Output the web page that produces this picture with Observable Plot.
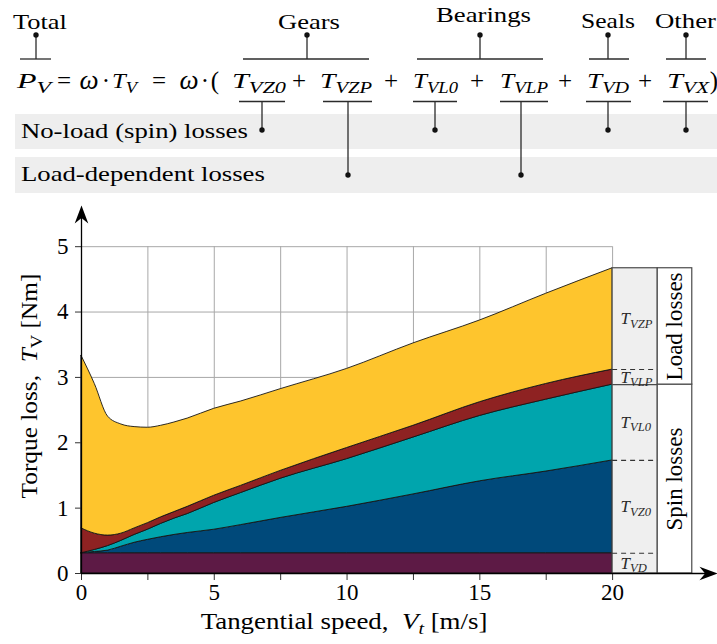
<!DOCTYPE html>
<html>
<head>
<meta charset="utf-8">
<script src="https://cdn.jsdelivr.net/npm/d3@7"></script>
<script src="https://cdn.jsdelivr.net/npm/@observablehq/plot@0.6"></script>
<style>
  html, body { margin: 0; padding: 0; background: #fff; }
  #page { width: 717px; overflow: hidden; }
  svg { display: block; }
  #page text, #page tspan { font-family: "Liberation Serif", serif !important; }
</style>
</head>
<body>
<div id="page"></div>
<script>
// ---------------- data ----------------
const speed = [0, 0.5, 1, 1.5, 2, 2.5, 3, 3.5, 4, 5, 6, 7.5, 10, 12.5, 15, 17.5, 20];
// torque loss of each component [Nm] at each tangential speed [m/s]
const T_VD  = [0.31, 0.31, 0.31, 0.31, 0.31, 0.31, 0.31, 0.31, 0.31, 0.31, 0.31, 0.31, 0.31, 0.31, 0.31, 0.31, 0.31];
const T_VZ0 = [0.00, 0.02, 0.04, 0.10, 0.16, 0.205, 0.245, 0.28, 0.31, 0.36, 0.43, 0.54, 0.71, 0.90, 1.10, 1.25, 1.42];
const T_VL0 = [0.00, 0.03, 0.07, 0.09, 0.12, 0.155, 0.205, 0.25, 0.29, 0.41, 0.49, 0.60, 0.73, 0.87, 1.00, 1.10, 1.16];
const T_VLP = [0.38, 0.25, 0.16, 0.11, 0.10, 0.10, 0.10, 0.10, 0.11, 0.11, 0.11, 0.12, 0.17, 0.18, 0.21, 0.24, 0.23];
const T_VZP = [2.64, 2.29, 1.82, 1.67, 1.55, 1.46, 1.40, 1.37, 1.35, 1.33, 1.29, 1.25, 1.21, 1.26, 1.25, 1.38, 1.55];

const series = ["T_VD", "T_VZ0", "T_VL0", "T_VLP", "T_VZP"];   // stacking order, bottom to top
const colors = ["#5d1a45", "#00497a", "#00a5ad", "#8e2222", "#fec52d"];
const groupNames = ["Spin losses", "Load losses"];

const xTicks = [0, 2.5, 5, 7.5, 10, 12.5, 15, 17.5, 20];
const xTickLabels = [0, 5, 10, 15, 20];
const yTicks = [0, 1, 2, 3, 4, 5];

const xTitle = "Tangential speed,  V_t [m/s]";
const yTitle = "Torque loss,  T_V [Nm]";

const headerTopLabels = ["Total", "Gears", "Bearings", "Seals", "Other"];
const headerBandLabels = ["No-load (spin) losses", "Load-dependent losses"];

// ---------------- helpers ----------------
const FONT = "Liberation Serif";

// spec: list of [string, style]; style n = normal, i = italic, s = italic subscript, sr = roman subscript
function rich(sel, spec, size, subScale = 0.74) {
  sel.text(null);
  let shift = 0;
  for (const [str, st = "n"] of spec) {
    const sub = st === "s" || st === "sr";
    const ts = sel.append("tspan").text(str);
    const target = sub ? +(size * 0.2).toFixed(2) : 0;
    if (target !== shift) { ts.attr("dy", +(target - shift).toFixed(2)); shift = target; }
    if (st === "i" || st === "s") ts.attr("font-style", "italic");
    if (sub) ts.attr("font-size", +(size * subScale).toFixed(2));
  }
}
function termSpec(name) { // "T_VZ0" -> T italic with subscript
  const [a, b] = name.split("_");
  return [[a, "i"], [b, "s"]];
}
// widen a text horizontally (along its own direction) to a target advance width
const toStretch = [];
function stretch(el, target) {
  const w = el.getComputedTextLength();
  if (!w) return;
  const s = (target / w).toFixed(4);
  const tr = el.getAttribute("transform") || "";
  const x = +el.getAttribute("x") || 0, y = +el.getAttribute("y") || 0;
  el.setAttribute("transform", `${tr} translate(${x},${y}) scale(${s},1) translate(${-x},${-y})`.trim());
}

// ---------------- header (formula breakdown) ----------------
const W = 717;
const header = d3.create("svg").attr("width", W).attr("height", 200)
  .attr("font-family", FONT).attr("viewBox", `0 0 ${W} 200`);

// grey bands
const bands = [{y: 114, h: 35, tx: 21, ty: 137.5, tw: 227}, {y: 157, h: 36, tx: 21, ty: 181.5, tw: 244}];
bands.forEach((b, i) => {
  header.append("rect").attr("x", 15).attr("y", b.y).attr("width", W - 15).attr("height", b.h).attr("fill", "#eeeeee");
  const t = header.append("text").attr("x", b.tx).attr("y", b.ty).attr("font-size", 22).text(headerBandLabels[i]);
  toStretch.push([t.node(), b.tw]);
});

// formula
const FS = 22, BASE = 88.5;
const formulaTerms = [
  {x: 17, w: 34, spec: [["P", "i"], ["V", "s"]]},
  {x: 112, w: 25, spec: [["T", "i"], ["V", "s"]]},
  {x: 232, w: 54, spec: termSpec("T_VZ0")},
  {x: 320, w: 52, spec: termSpec("T_VZP")},
  {x: 413, w: 45, spec: termSpec("T_VL0")},
  {x: 500, w: 48, spec: termSpec("T_VLP")},
  {x: 587, w: 42, spec: termSpec("T_VD")},
  {x: 667, w: 42, spec: termSpec("T_VX")}
];
formulaTerms.forEach(t => {
  const el = header.append("text").attr("x", t.x).attr("y", BASE).attr("font-size", FS);
  rich(el, t.spec, FS);
  toStretch.push([el.node(), t.w]);
});
const formulaOps = [
  {x: 64, s: "="}, {x: 89, s: "ω", it: true}, {x: 106, s: "·"},
  {x: 159, s: "="}, {x: 189, s: "ω", it: true}, {x: 205, s: "·"}, {x: 215, s: "("},
  {x: 299, s: "+"}, {x: 391, s: "+"}, {x: 477, s: "+"}, {x: 565, s: "+"}, {x: 645, s: "+"}, {x: 714, s: ")"}
];
formulaOps.forEach(o => {
  header.append("text").attr("x", o.x).attr("y", BASE).attr("font-size", o.s === "ω" ? 27 : 25)
    .attr("text-anchor", "middle").attr("font-style", o.it ? "italic" : null).text(o.s);
});

// over-brackets with labels
const LINE = "#2b2b2b";
const over = [
  {x1: 20, x2: 51, stem: 36, tx: 13, ty: 29, tw: 54},
  {x1: 243, x2: 369, stem: 307, tx: 278, ty: 29, tw: 62},
  {x1: 417, x2: 543, stem: 480, tx: 436, ty: 22, tw: 95},
  {x1: 589, x2: 629, stem: 608, tx: 581, ty: 28.5, tw: 54},
  {x1: 666, x2: 706, stem: 686, tx: 655, ty: 28.5, tw: 61}
];
over.forEach((o, i) => {
  const t = header.append("text").attr("x", o.tx).attr("y", o.ty).attr("font-size", 22).text(headerTopLabels[i]);
  toStretch.push([t.node(), o.tw]);
  header.append("line").attr("x1", o.x1).attr("x2", o.x2).attr("y1", 59).attr("y2", 59).attr("stroke", LINE).attr("stroke-width", 1.3);
  header.append("line").attr("x1", o.stem).attr("x2", o.stem).attr("y1", 35).attr("y2", 59).attr("stroke", LINE).attr("stroke-width", 1.3);
  header.append("circle").attr("cx", o.stem).attr("cy", 35).attr("r", 2.7).attr("fill", "#111");
});
// under-brackets pointing into the bands
const under = [
  {x1: 239, x2: 285, stem: 262, dy: 130},
  {x1: 323, x2: 372, stem: 348, dy: 175},
  {x1: 413, x2: 457, stem: 435, dy: 130},
  {x1: 500, x2: 548, stem: 521, dy: 175},
  {x1: 586, x2: 631, stem: 608, dy: 130},
  {x1: 663, x2: 708, stem: 686, dy: 130}
];
under.forEach(u => {
  header.append("line").attr("x1", u.x1).attr("x2", u.x2).attr("y1", 101.5).attr("y2", 101.5).attr("stroke", LINE).attr("stroke-width", 1.3);
  header.append("line").attr("x1", u.stem).attr("x2", u.stem).attr("y1", 101.5).attr("y2", u.dy).attr("stroke", LINE).attr("stroke-width", 1.3);
  header.append("circle").attr("cx", u.stem).attr("cy", u.dy).attr("r", 2.7).attr("fill", "#111");
});

// ---------------- chart ----------------
const layers = {T_VD, T_VZ0, T_VL0, T_VLP, T_VZP};
const rows = series.flatMap(k => speed.map((s, i) => ({speed: s, component: k, torque: layers[k][i]})));

const last = speed.length - 1;
const xEnd = speed[last];
let acc = 0;
const bounds = series.map(k => { const lo = acc; acc += layers[k][last]; return {k, lo, hi: acc}; });
const total = acc;
const spinTop = bounds[2].hi;
const panelX = [xEnd, 21.7, 23.0];   // side-panel column edges (x units)
const groups = [{name: groupNames[0], lo: 0, hi: spinTop}, {name: groupNames[1], lo: spinTop, hi: total}];

const xMax = 23.95, yMax = 5.63;
const gridTop = yTicks[yTicks.length - 1];

// stealth arrowheads (tip at the anchor point)
const stealthUp = {draw(ctx, size) {
  const r = Math.sqrt(size / Math.PI), L = 2.25 * r, w = 0.85 * r, n = 1.55 * r;
  ctx.moveTo(0, 0); ctx.lineTo(w, L); ctx.lineTo(0, n); ctx.lineTo(-w, L); ctx.closePath();
}};
const stealthRight = {draw(ctx, size) {
  const r = Math.sqrt(size / Math.PI), L = 2.25 * r, w = 0.85 * r, n = 1.55 * r;
  ctx.moveTo(0, 0); ctx.lineTo(-L, w); ctx.lineTo(-n, 0); ctx.lineTo(-L, -w); ctx.closePath();
}};

const chart = Plot.plot({
  width: W, height: 444,
  marginLeft: 81, marginRight: 0, marginTop: 5, marginBottom: 71,
  x: {domain: [0, xMax]},
  y: {domain: [0, yMax]},
  color: {domain: series, range: colors},
  style: {fontFamily: FONT, fontSize: "23px", background: "white", color: "black", overflow: "visible"},
  marks: [
    Plot.ruleY(yTicks.filter(d => d > 0), {x1: xTicks[0], x2: xEnd, stroke: "#a8a8a8", strokeWidth: 1}),
    Plot.ruleX(xTicks.filter(d => d > 0), {y1: 0, y2: gridTop, stroke: "#a8a8a8", strokeWidth: 1}),
    Plot.areaY(rows, {x: "speed", y: "torque", z: "component", fill: "component", order: series,
      curve: "monotone-x", stroke: "#151515", strokeWidth: 0.9}),
    // side panel
    Plot.rect([total], {x1: panelX[0], x2: panelX[1], y1: 0, y2: d => d, fill: "#efefef", stroke: "#4a4a4a", strokeWidth: 1.2}),
    Plot.rect(groups, {x1: panelX[1], x2: panelX[2], y1: "lo", y2: "hi", fill: "white", stroke: "#4a4a4a", strokeWidth: 1.2}),
    Plot.ruleY([spinTop], {x1: panelX[0], x2: panelX[1], stroke: "#4a4a4a", strokeWidth: 1.2}),
    Plot.ruleY([bounds[0].hi, bounds[1].hi, bounds[3].hi], {x1: panelX[0], x2: panelX[1], stroke: "#333", strokeWidth: 1.1, strokeDasharray: "5,4"}),
    Plot.text(bounds, {x: panelX[0], y: d => (d.lo + d.hi) / 2, text: "k", textAnchor: "start", dx: 8, fontSize: 17, fill: "#2a2a2a"}),
    Plot.text(groups, {x: (panelX[1] + panelX[2]) / 2, y: d => (d.lo + d.hi) / 2, text: "name", rotate: -90, fontSize: 23}),
    // axes
    Plot.axisX({ticks: xTicks, tickFormat: d => xTickLabels.includes(d) ? String(d) : "", tickSize: 7, tickPadding: 3, label: null, fontSize: 23, stroke: "#333"}),
    Plot.axisY({ticks: yTicks, tickFormat: d => String(d), tickSize: 6, tickPadding: 7, label: null, fontSize: 23, stroke: "#333"}),
    Plot.ruleY([0], {x1: 0, x2: xMax - 0.3, stroke: "black", strokeWidth: 1.3}),
    Plot.ruleX([0], {y1: 0, y2: yMax - 0.1, stroke: "black", strokeWidth: 1.3}),
    Plot.dot([0], {x: xMax, y: 0, symbol: stealthRight, r: 8, fill: "black", stroke: "none"}),
    Plot.dot([0], {x: 0, y: yMax, symbol: stealthUp, r: 8, fill: "black", stroke: "none"}),
    // titles
    Plot.text([xTitle], {x: (xTicks[0] + xEnd) / 2, frameAnchor: "bottom", lineAnchor: "middle", dy: 48.6, dx: -3, fontSize: 23, textAnchor: "middle"}),
    Plot.text([yTitle], {frameAnchor: "left", lineAnchor: "middle", rotate: -90, dx: -51.4, dy: -3.5, fontSize: 23, textAnchor: "middle"})
  ]
});

const richMap = new Map([
  [xTitle, {spec: [["Tangential speed,  "], ["V", "i"], ["t", "s"], [" [m/s]"]], size: 23, len: 287}],
  [yTitle, {spec: [["Torque loss,  "], ["T", "i"], ["V", "sr"], [" [Nm]"]], size: 23, len: 225}],
  ...series.map(k => [k, {spec: termSpec(k), size: 17}])
]);
d3.select(chart).selectAll("text").each(function() {
  const r = richMap.get(this.textContent);
  if (!r) return;
  rich(d3.select(this), r.spec, r.size);
  if (r.len) toStretch.push([this, r.len]);
});

const page = document.getElementById("page");
page.appendChild(header.node());
page.appendChild(chart);
// force the serif family on every text node, then widen texts to the reference's widths
d3.select(page).selectAll("text, tspan").attr("font-family", FONT).style("font-family", FONT);
toStretch.forEach(([el, w]) => stretch(el, w));
</script>
</body>
</html>
